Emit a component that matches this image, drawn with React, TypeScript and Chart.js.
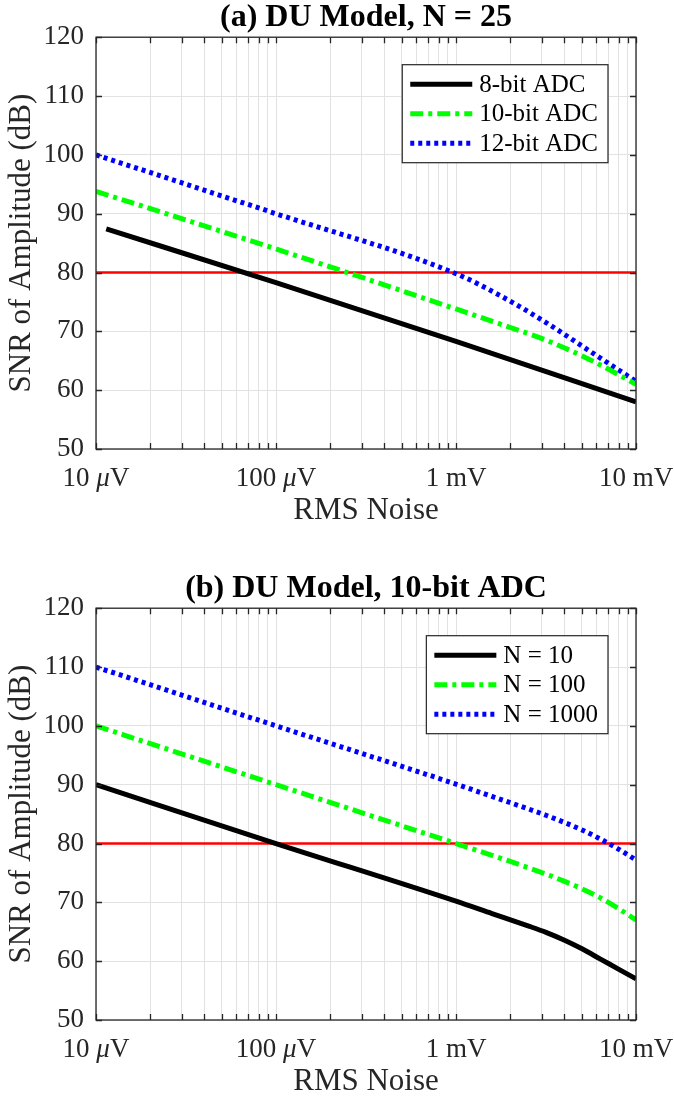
import React, { useEffect, useRef } from 'react';
import { Chart, registerables } from 'chart.js';

Chart.register(...registerables);

const FONT = '"Liberation Serif", "Times New Roman", Times, serif';
const AXIS_COLOR = '#262626';
const GRID_COLOR = '#e2e2e2';
const TICK_SIZE = 27;

// ---- shared axis data (noise in µV) ----
const xMajorTicks = [10, 100, 1000, 10000];
const xTickLabels = ['10 μV', '100 μV', '1 mV', '10 mV'];
const xMinorMultipliers = [2, 3, 4, 5, 6, 7, 8, 9];
const yMin = 50;
const yMax = 120;
const yStep = 10;
const thresholdDb = 80;
const xLabel = 'RMS Noise';
const yLabel = 'SNR of Amplitude (dB)';

// ---- chart (a) ----
const titleA = '(a) DU Model, N = 25';
const legendA = ['8-bit ADC', '10-bit ADC', '12-bit ADC'];
const noiseA8 = [11.4, 100, 1000, 10000];
const snrA8 = [87.4, 78.3, 68.3, 58.0];
const noiseA = [10, 100, 1000, 1778, 3162, 5623, 10000];
const snrA10 = [93.8, 84.0, 73.8, 71.2, 68.5, 65.1, 61.0];
const snrA12 = [100, 90, 79.8, 76.0, 71.5, 66.5, 61.5];

// ---- chart (b) ----
const titleB = '(b) DU Model, 10-bit ADC';
const legendB = ['N = 10', 'N = 100', 'N = 1000'];
const noiseB = [10, 100, 1000, 1585, 2512, 3162, 3981, 5012, 6310, 7943, 10000];
const snrB10 = [90, 80, 70.2, 68.1, 66.0, 64.9, 63.6, 62.1, 60.4, 58.7, 57.0];
const snrB100 = [100, 90, 80, 78.0, 75.9, 74.8, 73.6, 72.3, 70.8, 69.0, 67.0];
const snrB1000 = [110, 100, 90.1, 88.0, 85.9, 84.8, 83.6, 82.3, 80.8, 79.1, 77.2];

const seriesStyles = [
  { color: '#000000', width: 5, dash: [] as number[] },
  { color: '#00ff00', width: 5, dash: [13, 5, 4, 5] },
  { color: '#0000ff', width: 5, dash: [4, 4] },
];

const xAllTicks: number[] = [];
xMajorTicks.forEach((d, i) => {
  xAllTicks.push(d);
  if (i < xMajorTicks.length - 1) xMinorMultipliers.forEach((m) => xAllTicks.push(d * m));
});

const zip = (xs: number[], ys: number[]) => xs.map((x, i) => ({ x, y: ys[i] }));

const axisBoxPlugin = {
  id: 'axisBox',
  afterDatasetsDraw(chart: any) {
    const { ctx, chartArea, scales } = chart;
    const { left, right, top, bottom } = chartArea;
    const L = 6;
    ctx.save();
    ctx.strokeStyle = AXIS_COLOR;
    ctx.lineWidth = 1.3;
    ctx.beginPath();
    scales.x.ticks.forEach((t: any) => {
      const px = Math.round(scales.x.getPixelForValue(t.value)) + 0.5;
      ctx.moveTo(px, bottom);
      ctx.lineTo(px, bottom - L);
      ctx.moveTo(px, top);
      ctx.lineTo(px, top + L);
    });
    scales.y.ticks.forEach((t: any) => {
      const py = Math.round(scales.y.getPixelForValue(t.value)) + 0.5;
      ctx.moveTo(left, py);
      ctx.lineTo(left + L, py);
      ctx.moveTo(right, py);
      ctx.lineTo(right - L, py);
    });
    ctx.stroke();
    ctx.strokeRect(left, top, right - left, bottom - top);
    ctx.restore();
  },
};

// Draws x tick labels with an italic μ (as in TeX-rendered labels), at the
// positions Chart.js computed for its own (transparent) labels.
const mathTicksPlugin = {
  id: 'mathTicks',
  afterDraw(chart: any) {
    const scale = chart.scales.x;
    const items = scale.getLabelItems ? scale.getLabelItems() : [];
    const { ctx } = chart;
    ctx.save();
    ctx.fillStyle = AXIS_COLOR;
    items.forEach((it: any) => {
      const label = String(it.label || '');
      if (!label) return;
      const parts = label.split(/(μ)/).filter((p) => p.length);
      const fonts = parts.map((p) => (p === 'μ' ? `italic ${TICK_SIZE}px ${FONT}` : `${TICK_SIZE}px ${FONT}`));
      const widths = parts.map((p, i) => {
        ctx.font = fonts[i];
        return ctx.measureText(p).width;
      });
      const total = widths.reduce((a, b) => a + b, 0);
      const [tx, ty] = it.options.translation;
      let x = tx - total / 2;
      const y = ty + (it.textOffset || 0);
      ctx.textBaseline = it.options.textBaseline || 'middle';
      ctx.textAlign = 'left';
      parts.forEach((p, i) => {
        ctx.font = fonts[i];
        ctx.fillText(p, x, y);
        x += widths[i];
      });
    });
    ctx.restore();
  },
};

const boxLegendPlugin = {
  id: 'boxLegend',
  afterDraw(chart: any, _args: any, opts: any) {
    const labels: string[] = opts.labels || [];
    if (!labels.length) return;
    const { ctx, chartArea } = chart;
    ctx.save();
    ctx.font = `25px ${FONT}`;
    const textW = Math.max(...labels.map((l) => ctx.measureText(l).width));
    const padL = 8;
    const sample = 62;
    const gap = 7;
    const padR = 10;
    const rowH = 29.5;
    const w = padL + sample + gap + textW + padR;
    const h = 98;
    const bx = chartArea.right - opts.marginRight - w;
    const by = chartArea.top + opts.marginTop;
    ctx.fillStyle = '#ffffff';
    ctx.fillRect(bx, by, w, h);
    ctx.strokeStyle = AXIS_COLOR;
    ctx.lineWidth = 1.2;
    ctx.strokeRect(bx, by, w, h);
    labels.forEach((lab, i) => {
      const st = seriesStyles[i];
      const cy = by + 19.5 + i * rowH;
      ctx.beginPath();
      ctx.setLineDash(st.dash);
      ctx.strokeStyle = st.color;
      ctx.lineWidth = st.width;
      ctx.moveTo(bx + padL, cy);
      ctx.lineTo(bx + padL + sample, cy);
      ctx.stroke();
      ctx.setLineDash([]);
      ctx.fillStyle = '#000000';
      ctx.textBaseline = 'middle';
      ctx.textAlign = 'left';
      ctx.fillText(lab, bx + padL + sample + gap, cy + 1);
    });
    ctx.restore();
  },
};

function buildConfig(title: string, legend: string[], series: { x: number; y: number }[][], bottomPad: number) {
  const datasets: any[] = series.map((data, i) => ({
    label: legend[i],
    data,
    borderColor: seriesStyles[i].color,
    borderWidth: seriesStyles[i].width,
    borderDash: seriesStyles[i].dash,
    pointRadius: 0,
    fill: false,
    cubicInterpolationMode: 'monotone',
    order: 1,
  }));
  datasets.unshift({
    label: 'threshold',
    data: [
      { x: xMajorTicks[0], y: thresholdDb },
      { x: xMajorTicks[xMajorTicks.length - 1], y: thresholdDb },
    ],
    borderColor: '#ff0000',
    borderWidth: 2.4,
    pointRadius: 0,
    fill: false,
    order: 2,
  });
  return {
    type: 'line',
    data: { datasets },
    plugins: [axisBoxPlugin, boxLegendPlugin, mathTicksPlugin],
    options: {
      responsive: false,
      animation: false,
      events: [],
      layout: { padding: { left: 0, right: 38, top: 0, bottom: bottomPad } },
      plugins: {
        legend: { display: false },
        tooltip: { enabled: false },
        title: {
          display: true,
          text: title,
          fullSize: false,
          color: '#000000',
          font: { family: FONT, size: 32, weight: 'bold', lineHeight: 1.1 },
          padding: { top: 0, bottom: 2 },
        },
        boxLegend: { labels: legend, marginRight: 28, marginTop: 27.5 },
      },
      scales: {
        x: {
          type: 'logarithmic',
          min: xMajorTicks[0],
          max: xMajorTicks[xMajorTicks.length - 1],
          afterBuildTicks: (s: any) => {
            s.ticks = xAllTicks.map((v) => ({ value: v, major: xMajorTicks.includes(v) }));
          },
          afterFit: (s: any) => {
            s.height = 80;
            s.paddingLeft = 0;
            s.paddingRight = 30;
          },
          border: { display: false },
          grid: { color: GRID_COLOR, lineWidth: 1, drawTicks: false },
          ticks: {
            autoSkip: false,
            maxRotation: 0,
            minRotation: 0,
            padding: 14,
            color: 'rgba(0,0,0,0)',
            font: { family: FONT, size: TICK_SIZE },
            callback: (v: any) => {
              const i = xMajorTicks.indexOf(Number(v));
              return i >= 0 ? xTickLabels[i] : '';
            },
          },
          title: {
            display: true,
            text: xLabel,
            color: AXIS_COLOR,
            font: { family: FONT, size: 31, lineHeight: 1.2 },
            padding: { top: 0, bottom: 0 },
          },
        },
        y: {
          type: 'linear',
          min: yMin,
          max: yMax,
          afterFit: (s: any) => {
            s.width = 96;
          },
          border: { display: false },
          grid: { color: GRID_COLOR, lineWidth: 1, drawTicks: false },
          ticks: {
            stepSize: yStep,
            padding: 12,
            color: AXIS_COLOR,
            font: { family: FONT, size: TICK_SIZE },
          },
          title: {
            display: true,
            text: yLabel,
            color: AXIS_COLOR,
            font: { family: FONT, size: 31, lineHeight: 1.2 },
            padding: { top: 3, bottom: 0 },
          },
        },
      },
    },
  };
}

function ChartCanvas({ config, height }: { config: any; height: number }) {
  const ref = useRef<HTMLCanvasElement | null>(null);
  useEffect(() => {
    if (!ref.current) return;
    const chart = new Chart(ref.current, config);
    return () => chart.destroy();
  }, [config]);
  return <canvas ref={ref} width={674} height={height} style={{ display: 'block', width: 674, height }} />;
}

const configA = buildConfig(
  titleA,
  legendA,
  [zip(noiseA8, snrA8), zip(noiseA, snrA10), zip(noiseA, snrA12)],
  42
);
const configB = buildConfig(
  titleB,
  legendB,
  [zip(noiseB, snrB10), zip(noiseB, snrB100), zip(noiseB, snrB1000)],
  4
);

export default function App() {
  return (
    <div style={{ position: 'absolute', left: 0, top: 0, width: 674, height: 1104, background: '#ffffff' }}>
      <ChartCanvas config={configA} height={571} />
      <ChartCanvas config={configB} height={533} />
    </div>
  );
}
